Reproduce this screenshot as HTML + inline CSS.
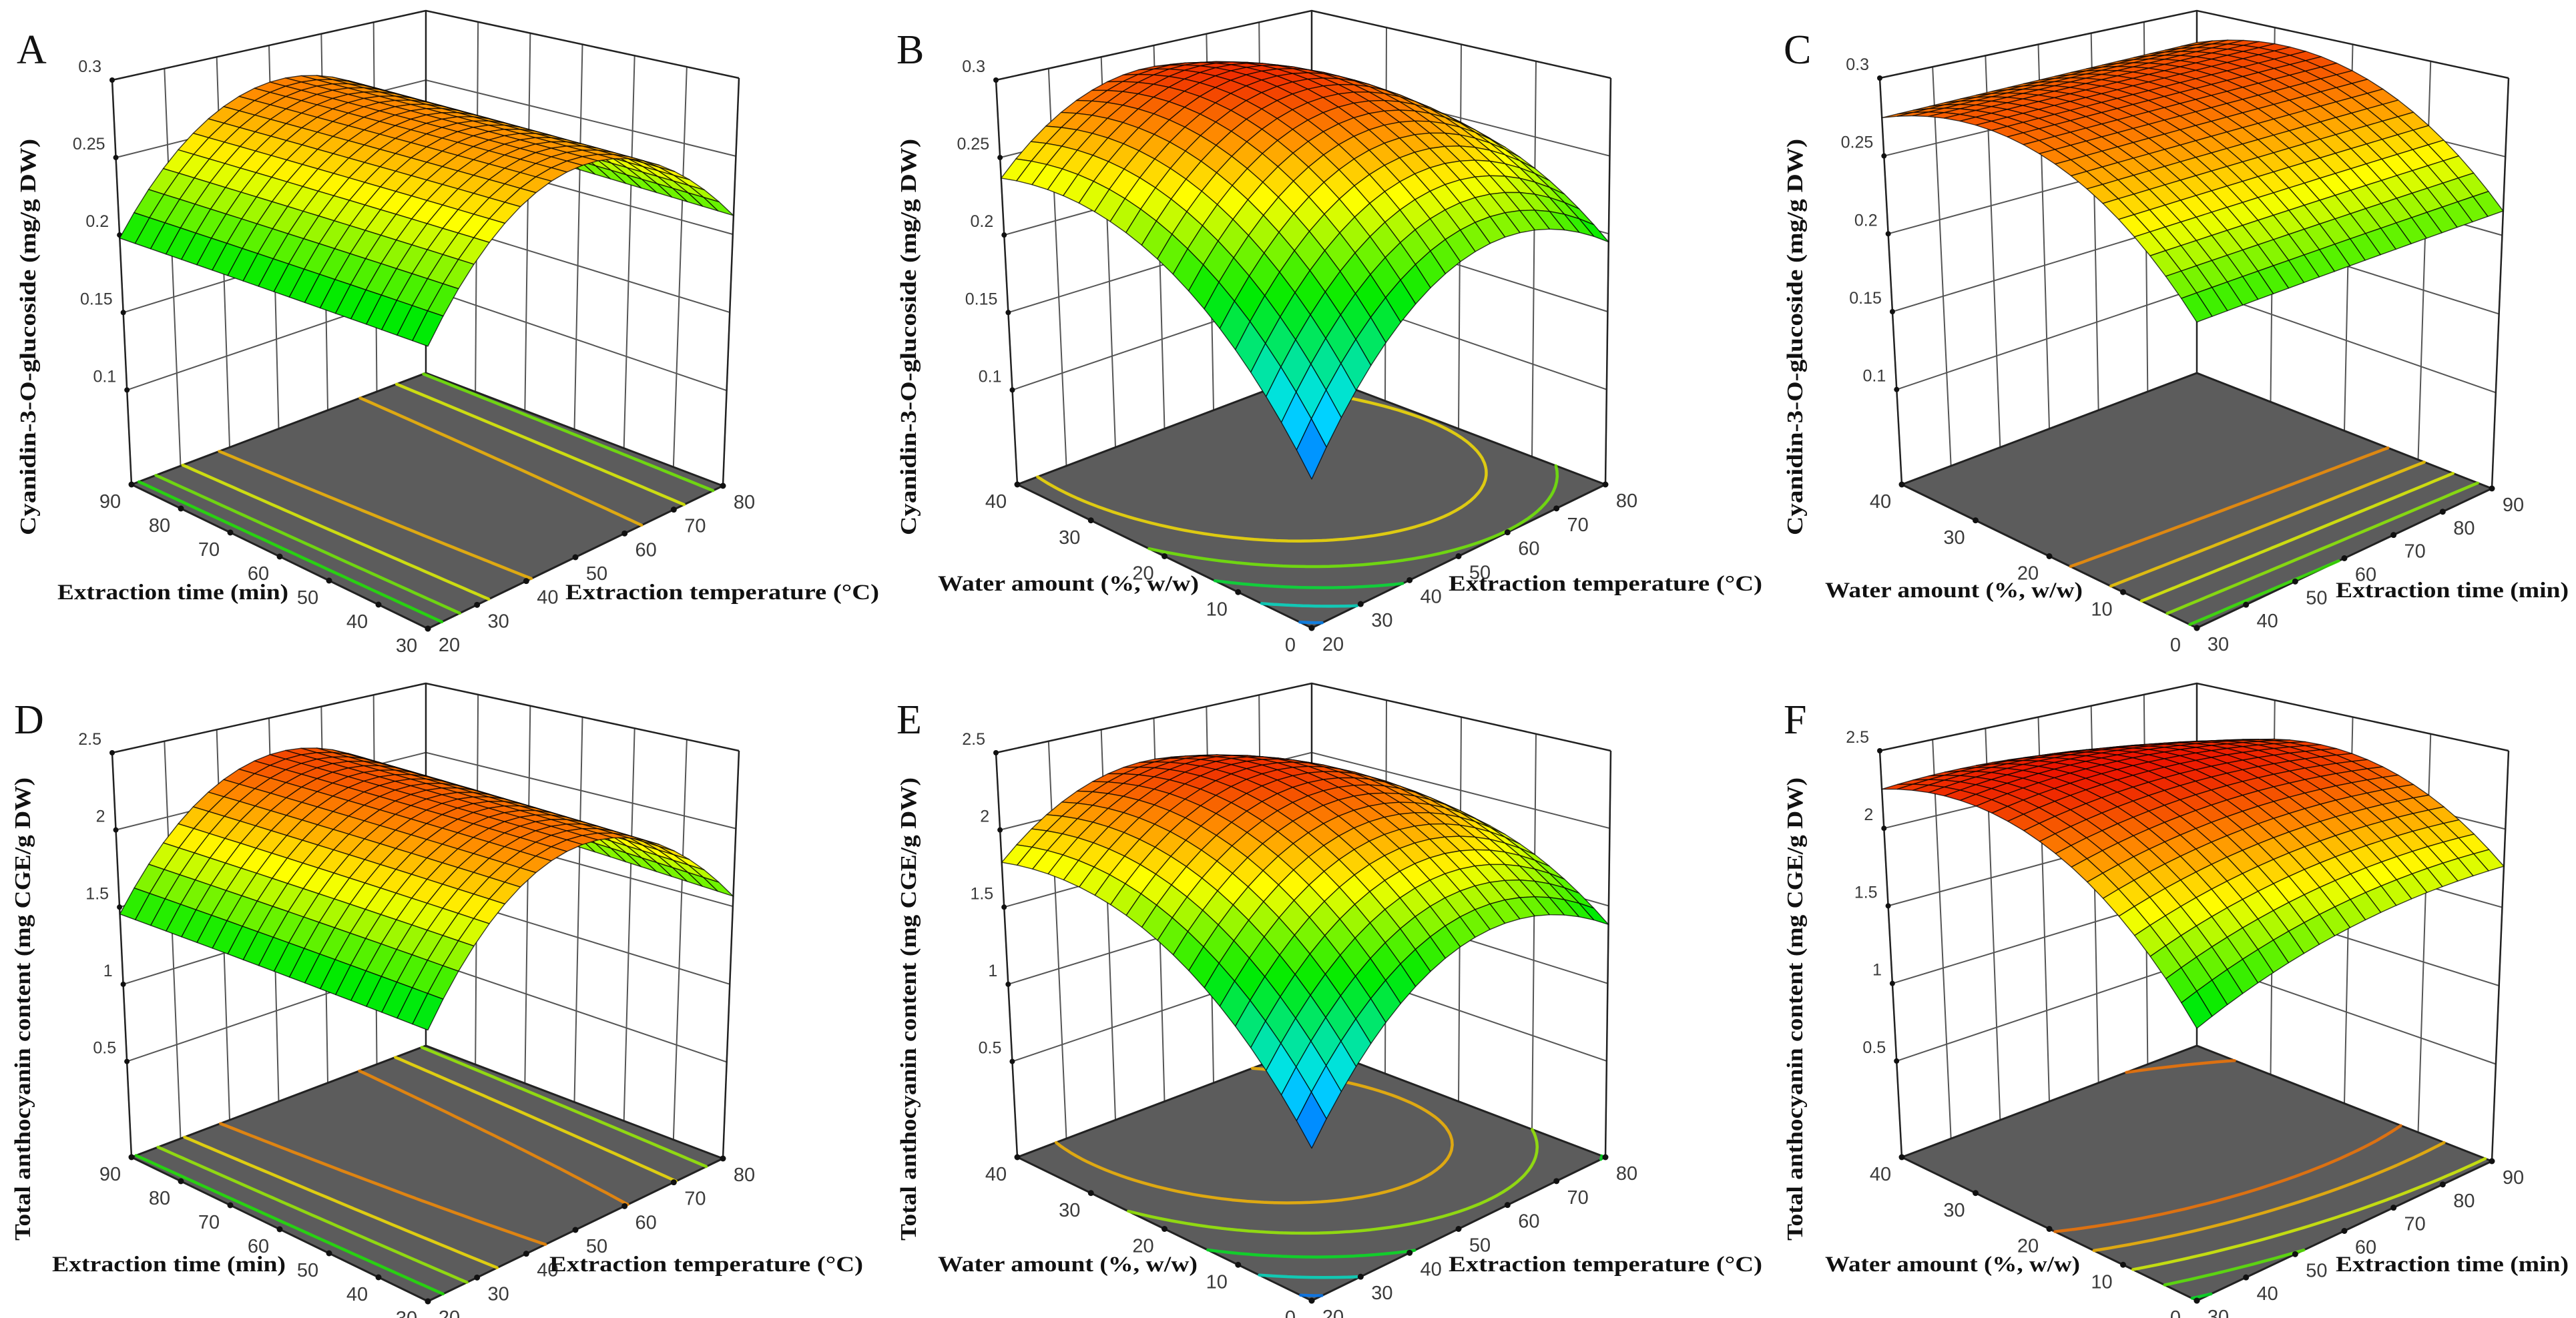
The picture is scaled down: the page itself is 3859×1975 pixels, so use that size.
<!DOCTYPE html>
<html><head><meta charset="utf-8">
<style>
html,body{margin:0;padding:0;background:#fff;}
svg{display:block;}
.tk{font-family:"Liberation Sans",sans-serif;fill:#3a3a3a;}
.ttl{font-family:"Liberation Serif",serif;font-weight:bold;fill:#111;}
.let{font-family:"Liberation Serif",serif;fill:#111;}
</style></head>
<body>
<svg id="fig" xmlns="http://www.w3.org/2000/svg" width="3859" height="1975" viewBox="0 0 3859 1975">
<rect x="0" y="0" width="3859" height="1975" fill="#fff"/>
</svg>
<script>
// ---- data (quadratic response-surface coefficients, coded units, x1 = right floor axis, x2 = left floor axis)
const letters = ['A','B','C','D','E','F'];
const b0  = [0.272, 0.285,   0.279,   2.20, 2.22,   2.31];
const b1  = [0.010, 0.01575, 0.00325, 0.105, 0.1325, 0.0425];
const b2  = [0.003, 0.03675, 0.0328,  0.05, 0.3375, 0.2875];
const b11 = [-0.067,-0.055,  0.0,    -0.69, -0.5,   -0.1];
const b22 = [0.0,  -0.036,  -0.036,   0.0, -0.3375, -0.36];
const b12 = [0.0,  -0.02175,-0.002,   0.0, -0.2025, -0.1575];
const contourA = [0.205,0.22,0.24,0.26];
const contourB = [0.13,0.16,0.19,0.22,0.25];
const contourC = [0.21,0.225,0.24,0.255,0.27];
const contourD = [1.5,1.7,1.9,2.1];
const contourE = [0.8,1.1,1.4,1.7,2.0];
const contourF = [1.4,1.6,1.8,2.0,2.15];
const zTicksTop = [0.1,0.15,0.2,0.25,0.3];
const zTickLabelsTop = ['0.1','0.15','0.2','0.25','0.3'];
const zTicksBot = [0.5,1,1.5,2,2.5];
const zTickLabelsBot = ['0.5','1','1.5','2','2.5'];
const tempTicks = [20,30,40,50,60,70,80];
const timeTicks = [30,40,50,60,70,80,90];
const waterTicks = [0,10,20,30,40];
const yTitleTop = 'Cyanidin-3-O-glucoside (mg/g DW)';
const yTitleBot = 'Total anthocyanin content (mg CGE/g DW)';
const tempTitle = 'Extraction temperature (°C)';
const timeTitle = 'Extraction time (min)';
const waterTitle = 'Water amount (%, w/w)';

const SVGNS = 'http://www.w3.org/2000/svg';
const svg = document.getElementById('fig');
function mk(tag, attrs, parent){
  const e = document.createElementNS(SVGNS, tag);
  for (const k in attrs) e.setAttribute(k, attrs[k]);
  (parent||svg).appendChild(e);
  return e;
}
function cmap(f){
  f = Math.max(0, Math.min(1, f));
  const st = [[0,[0,0,255]],[0.25,[0,225,255]],[0.5,[0,235,0]],[0.72,[255,255,0]],[0.86,[255,140,0]],[1,[235,20,0]]];
  for (let i=1;i<st.length;i++){
    if (f<=st[i][0]){
      const a=st[i-1], b=st[i], t=(f-a[0])/(b[0]-a[0]);
      const c=a[1].map((v,j)=>Math.round(v+(b[1][j]-v)*t));
      return 'rgb('+c.join(',')+')';
    }
  }
  return 'rgb(235,20,0)';
}
// ---- panel geometry (layout, not data)
const geoTop = [
  {F:[641,942],L:[197,726],R:[1083,728],B:[638,559],Ft:[641,220],Lt:[168,120],Rt:[1107,117],Bt:[638,16]},
  {F:[1965,941],L:[1524,726],R:[2405,726],B:[1965,559],Ft:[1965,220],Lt:[1492,120],Rt:[2413,117],Bt:[1965,16]},
  {F:[3291,941],L:[2849,726],R:[3733,732],B:[3291,559],Ft:[3291,220],Lt:[2816,117],Rt:[3758,117],Bt:[3291,16]}
];
const DY = 1008;
const titleGeo = [
  {yt:[41,505,594], lt:[86,898,346], rt:[847,898,470], letter:[25,95]},
  {yt:[1360,505,594], lt:[1405,885,391], rt:[2170,885,470], letter:[1343,95]},
  {yt:[2688,505,594], lt:[2734,895,386], rt:[3499,895,349], letter:[2672,95]},
  {yt:[33,1512,694], lt:[78,1905,350], rt:[823,1905,470], letter:[21,1099]},
  {yt:[1360,1512,694], lt:[1405,1905,389], rt:[2170,1905,470], letter:[1343,1099]},
  {yt:[2688,1512,694], lt:[2734,1905,382], rt:[3499,1905,349], letter:[2672,1099]}
];
const contours = [contourA,contourB,contourC,contourD,contourE,contourF];

function drawPanel(i){
  const top = i<3;
  const g0 = geoTop[i%3];
  const dy = top?0:DY;
  const G = {};
  for (const k in g0) G[k] = [g0[k][0], g0[k][1]+dy];
  const zmin = top?0.039:-0.12, zmax = top?0.3:2.5;
  const cmin = top?0.10:0.55, cmax = top?0.30:2.36;
  const uTicks = (i%3===2)?timeTicks:tempTicks;
  const vTicks = (i%3===0)?timeTicks:waterTicks;
  const zT = top?zTicksTop:zTicksBot, zL = top?zTickLabelsTop:zTickLabelsBot;
  const uTitle = (i%3===2)?timeTitle:tempTitle;
  const vTitle = (i%3===0)?timeTitle:waterTitle;
  function P(u,v,z){
    const t=(z-zmin)/(zmax-zmin);
    const bl=(A,B,C,D,j)=>A[j]*(1-u)*(1-v)+B[j]*u*(1-v)+C[j]*(1-u)*v+D[j]*u*v;
    const fx=bl(G.F,G.R,G.L,G.B,0), fy=bl(G.F,G.R,G.L,G.B,1);
    const gx=bl(G.Ft,G.Rt,G.Lt,G.Bt,0), gy=bl(G.Ft,G.Rt,G.Lt,G.Bt,1);
    return [fx+(gx-fx)*t, fy+(gy-fy)*t];
  }
  function Z(u,v){
    const a=2*u-1, w=2*v-1;
    return b0[i]+b1[i]*a+b2[i]*w+b11[i]*a*a+b22[i]*w*w+b12[i]*a*w;
  }
  const pt = p=>p[0].toFixed(1)+','+p[1].toFixed(1);
  const grp = mk('g',{});
  
  
  // walls
  const lw = mk('polygon',{points:[P(0,1,zmin),P(1,1,zmin),P(1,1,zmax),P(0,1,zmax)].map(pt).join(' '),fill:'#fff'},grp);
  
  
  const gridG = mk('g',{stroke:'#555','stroke-width':2,fill:'none'},grp);
  
  
  uTicks.forEach(val=>{
    const u=(val-uTicks[0])/(uTicks[uTicks.length-1]-uTicks[0]);
    mk('line',{x1:P(u,1,zmin)[0],y1:P(u,1,zmin)[1],x2:P(u,1,zmax)[0],y2:P(u,1,zmax)[1]},gridG);
  });
  vTicks.forEach(val=>{
    const v=(val-vTicks[0])/(vTicks[vTicks.length-1]-vTicks[0]);
    mk('line',{x1:P(1,v,zmin)[0],y1:P(1,v,zmin)[1],x2:P(1,v,zmax)[0],y2:P(1,v,zmax)[1]},gridG);
  });
  zT.forEach(z=>{
    const a=P(0,1,z), b=P(1,1,z), c=P(1,0,z);
    mk('polyline',{points:[a,b,c].map(pt).join(' ')},gridG);
  });
  // box frame
  const fr = mk('g',{stroke:'#222','stroke-width':2.5,fill:'none'},grp);
  
  
  mk('line',{x1:P(0,1,zmin)[0],y1:P(0,1,zmin)[1],x2:P(0,1,zmax)[0],y2:P(0,1,zmax)[1]},fr);
  mk('line',{x1:P(1,0,zmin)[0],y1:P(1,0,zmin)[1],x2:P(1,0,zmax)[0],y2:P(1,0,zmax)[1]},fr);
  mk('line',{x1:P(1,1,zmin)[0],y1:P(1,1,zmin)[1],x2:P(1,1,zmax)[0],y2:P(1,1,zmax)[1]},fr);
  mk('polyline',{points:[P(0,1,zmax),P(1,1,zmax),P(1,0,zmax)].map(pt).join(' ')},fr);
  // floor
  const fl = mk('polygon',{points:[P(0,0,zmin),P(1,0,zmin),P(1,1,zmin),P(0,1,zmin)].map(pt).join(' '),fill:'#5c5c5c',stroke:'#222','stroke-width':3},grp);
  
  
  // contours (marching squares on the model)
  const N=48, zg=[];
  for (let a=0;a<=N;a++){ zg.push([]); for (let b=0;b<=N;b++) zg[a].push(Z(a/N,b/N)); }
  contours[i].forEach(lv=>{
    let d='';
    for (let a=0;a<N;a++) for (let b=0;b<N;b++){
      const c=[[a,b],[a+1,b],[a+1,b+1],[a,b+1]];
      const pts=[];
      for (let k=0;k<4;k++){
        const p=c[k], q=c[(k+1)%4];
        const zp=zg[p[0]][p[1]], zq=zg[q[0]][q[1]];
        if ((zp<lv)!==(zq<lv)){
          const t=(lv-zp)/(zq-zp);
          pts.push(P((p[0]+(q[0]-p[0])*t)/N,(p[1]+(q[1]-p[1])*t)/N,zmin));
        }
      }
      for (let k=0;k+1<pts.length;k+=2) d+='M'+pt(pts[k])+'L'+pt(pts[k+1]);
    }
    if (d){
      const cl = mk('path',{d:d,stroke:cmap((lv-cmin)/(cmax-cmin)),'stroke-width':4.5,fill:'none','stroke-linecap':'round',opacity:0.8},grp);
      
      
    }
  });
  // tick dots + labels
  const tg = mk('g',{},grp);
  
  
  zT.forEach((z,k)=>{
    const p=P(0,1,z);
    mk('circle',{cx:p[0],cy:p[1],r:4,fill:'#111'},tg);
    const t=mk('text',{x:p[0]-16,y:p[1]-12,'text-anchor':'end','font-size':25,class:'tk'},tg);
    t.textContent=zL[k];
  });
  uTicks.forEach(val=>{
    const u=(val-uTicks[0])/(uTicks[uTicks.length-1]-uTicks[0]);
    const p=P(u,0,zmin);
    mk('circle',{cx:p[0],cy:p[1],r:4.5,fill:'#111'},tg);
    const t=mk('text',{x:p[0]+32,y:p[1]+34,'text-anchor':'middle','font-size':29,class:'tk'},tg);
    t.textContent=String(val);
  });
  vTicks.forEach(val=>{
    const v=(val-vTicks[0])/(vTicks[vTicks.length-1]-vTicks[0]);
    const p=P(0,v,zmin);
    mk('circle',{cx:p[0],cy:p[1],r:4.5,fill:'#111'},tg);
    const t=mk('text',{x:p[0]-32,y:p[1]+35,'text-anchor':'middle','font-size':29,class:'tk'},tg);
    t.textContent=String(val);
  });
  // surface
  const S=20, cells=[];
  for (let a=0;a<S;a++) for (let b=0;b<S;b++) cells.push([a,b]);
  cells.sort((p,q)=>(q[0]+q[1])-(p[0]+p[1]));
  const sg = mk('g',{stroke:'rgba(0,0,0,0.75)','stroke-width':1.4,'stroke-linejoin':'round'},grp);
  
  
  cells.forEach(c=>{
    const u0=c[0]/S,u1=(c[0]+1)/S,v0=c[1]/S,v1=(c[1]+1)/S;
    const zs=[Z(u0,v0),Z(u1,v0),Z(u1,v1),Z(u0,v1)];
    const zc=(zs[0]+zs[1]+zs[2]+zs[3])/4;
    const poly=[P(u0,v0,zs[0]),P(u1,v0,zs[1]),P(u1,v1,zs[2]),P(u0,v1,zs[3])];
    const q=mk('polygon',{points:poly.map(pt).join(' '),fill:cmap((zc-cmin)/(cmax-cmin))},sg);
    
    
  });
  // titles
  const T = titleGeo[i];
  const yt = mk('text',{x:0,y:0,'text-anchor':'middle','font-size':34,class:'ttl',transform:'translate('+T.yt[0]+','+T.yt[1]+') rotate(-90)',textLength:T.yt[2],lengthAdjust:'spacingAndGlyphs',dy:12});
  yt.textContent = top?yTitleTop:yTitleBot;
  
  
  const lt = mk('text',{x:T.lt[0],y:T.lt[1],'font-size':33,class:'ttl',textLength:T.lt[2],lengthAdjust:'spacingAndGlyphs'});
  lt.textContent = vTitle;
  
  
  const rt = mk('text',{x:T.rt[0],y:T.rt[1],'font-size':33,class:'ttl',textLength:T.rt[2],lengthAdjust:'spacingAndGlyphs'});
  rt.textContent = uTitle;
  
  
  const lb = mk('text',{x:T.letter[0],y:T.letter[1],'font-size':62,class:'let'});
  lb.textContent = letters[i];
  
  
}
for (let i=0;i<6;i++) drawPanel(i);
</script>
</body></html>
